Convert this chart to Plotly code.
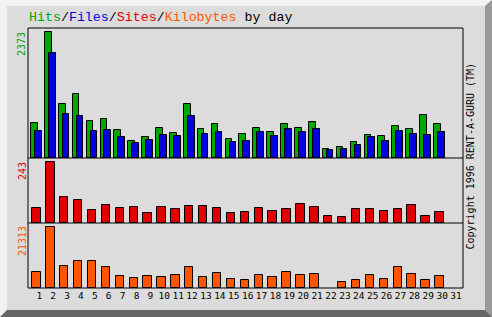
import plotly.graph_objects as go

days = list(range(1, 32))
hits = [659, 2373, 1017, 1205, 697, 735, 527, 320, 395, 565, 471, 1017, 546, 640, 358, 452,
        565, 490, 640, 565, 678, 170, 207, 301, 433, 414, 603, 546, 810, 640, 0]
files = [514, 1978, 829, 791, 514, 527, 395, 282, 339, 433, 414, 791, 452, 490, 301, 320,
         490, 414, 546, 490, 546, 151, 170, 245, 395, 320, 508, 452, 433, 490, 0]
sites = [60, 243, 104, 92, 52, 72, 60, 64, 40, 64, 56, 68, 68, 60, 40, 44,
         60, 48, 56, 76, 64, 28, 24, 56, 56, 48, 56, 72, 28, 44, 0]
kbytes = [5590, 21313, 7687, 9434, 9434, 7337, 4193, 3494, 4193, 3843, 4542, 7337, 3843, 5241, 3145, 2795,
          4542, 3843, 5590, 4542, 4892, 0, 2096, 2795, 4542, 3145, 7337, 4892, 2795, 4193, 0]
tick_labels = [str(d) for d in days]

GREEN = "#00A800"
BLUE = "#0000E0"
RED = "#E00000"
ORANGE = "#FF5500"
BG = "#DCDCDC"

W, H = 492, 317
L, R, T, B = 28, 463, 28, 288


def px(x):
    return (x - L) / (R - L)


def py(y):
    return (B - y) / (B - T)


def nz(vals):
    # zero days draw no bar at all
    return [v if v else None for v in vals]


line = dict(color="black", width=1)
fig = go.Figure()
fig.add_trace(go.Bar(x=days, y=nz(hits), offset=-0.59, width=0.48, marker=dict(color=GREEN, line=line),
                     xaxis="x", yaxis="y"))
fig.add_trace(go.Bar(x=days, y=nz(files), offset=-0.305, width=0.48, marker=dict(color=BLUE, line=line),
                     xaxis="x", yaxis="y"))
fig.add_trace(go.Bar(x=days, y=nz(sites), offset=-0.5, width=0.6, marker=dict(color=RED, line=line),
                     xaxis="x", yaxis="y2"))
fig.add_trace(go.Bar(x=days, y=nz(kbytes), offset=-0.5, width=0.6, marker=dict(color=ORANGE, line=line),
                     xaxis="x", yaxis="y3"))

hidden = dict(showticklabels=False, showgrid=False, zeroline=False, showline=False, ticks="")
fig.update_layout(
    width=W, height=H, autosize=False,
    margin=dict(l=L, r=W - R, t=T, b=H - B, pad=0),
    paper_bgcolor=BG, plot_bgcolor=BG,
    showlegend=False, barmode="overlay", bargap=0,
    xaxis=dict(domain=[0, 1], anchor="y3", range=[0.19, 31.5], tickvals=days, ticktext=tick_labels,
               tickangle=0, showgrid=False, zeroline=False, showline=False, ticks="",
               tickfont=dict(family="DejaVu Sans Mono", size=9.5, color="black")),
    yaxis=dict(domain=[0.5, 1], range=[0, max(hits) * 130.3 / 126], anchor="x", **hidden),
    yaxis2=dict(domain=[0.25, 0.5], range=[0, max(sites) * 65.3 / 61], anchor="x", **hidden),
    yaxis3=dict(domain=[0, 0.25], range=[0, max(kbytes) * 65.3 / 61], anchor="x", **hidden),
)

shapes = []
# 3D border
shapes.append(dict(type="path", xref="paper", yref="paper", layer="below",
                   path=f"M {px(0)} {py(0)} L {px(492)} {py(0)} L {px(485)} {py(6)} L {px(7)} {py(6)} "
                        f"L {px(7)} {py(310)} L {px(0)} {py(317)} Z",
                   fillcolor="#F2F2F2", line=dict(width=0)))
shapes.append(dict(type="path", xref="paper", yref="paper", layer="below",
                   path=f"M {px(492)} {py(0)} L {px(492)} {py(317)} L {px(485)} {py(310)} L {px(485)} {py(6)} Z",
                   fillcolor="#999999", line=dict(width=0)))
shapes.append(dict(type="path", xref="paper", yref="paper", layer="below",
                   path=f"M {px(0)} {py(317)} L {px(492)} {py(317)} L {px(485)} {py(310)} L {px(7)} {py(310)} Z",
                   fillcolor="#666666", line=dict(width=0)))
# frame and panel separators
shapes.append(dict(type="rect", xref="paper", yref="paper", x0=0, x1=1, y0=0, y1=1,
                   line=dict(color="black", width=1), layer="above"))
for yy in (0.25, 0.5):
    shapes.append(dict(type="line", xref="paper", yref="paper", x0=0, x1=1, y0=yy, y1=yy,
                       line=dict(color="black", width=1), layer="above"))
fig.update_layout(shapes=shapes)

title = (f'<span style="color:{GREEN}">Hits</span>/<span style="color:{BLUE}">Files</span>/'
         f'<span style="color:{RED}">Sites</span>/<span style="color:{ORANGE}">Kilobytes</span> by day')
ann = [
    dict(text=title, xref="paper", yref="paper", x=px(27), y=py(18), xanchor="left", yanchor="middle",
         showarrow=False, font=dict(family="Liberation Mono", size=13.3, color="black")),
    dict(text=str(max(hits)), xref="paper", yref="paper", x=px(22), y=py(30), xanchor="center",
         yanchor="top", textangle=-90, showarrow=False,
         font=dict(family="DejaVu Sans Mono", size=10, color=GREEN)),
    dict(text=str(max(sites)), xref="paper", yref="paper", x=px(22), y=py(160), xanchor="center",
         yanchor="top", textangle=-90, showarrow=False,
         font=dict(family="DejaVu Sans Mono", size=10, color=RED)),
    dict(text=str(max(kbytes)), xref="paper", yref="paper", x=px(22), y=py(224), xanchor="center",
         yanchor="top", textangle=-90, showarrow=False,
         font=dict(family="DejaVu Sans Mono", size=10, color=ORANGE)),
    dict(text="Copyright 1996 RENT-A-GURU (TM)", xref="paper", yref="paper", x=px(470), y=py(252),
         xanchor="center", yanchor="bottom", textangle=-90, showarrow=False,
         font=dict(family="DejaVu Sans Mono", size=10, color="black")),
]
fig.update_layout(annotations=ann)

fig.write_html("out.html")
